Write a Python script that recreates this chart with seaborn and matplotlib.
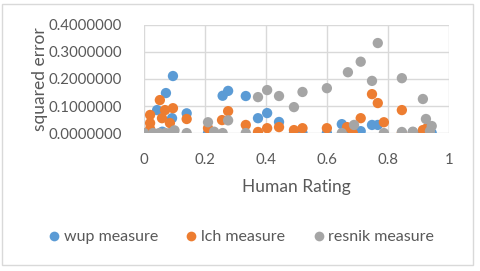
import matplotlib
matplotlib.use("Agg")
import matplotlib.pyplot as plt
from matplotlib.patches import Rectangle
from matplotlib.lines import Line2D
import seaborn as sns
import pandas as pd

# ---- data ----
wup_x = [0.02, 0.043, 0.06, 0.072, 0.092, 0.095, 0.14, 0.21, 0.258, 0.276, 0.334, 0.374,
         0.404, 0.443, 0.492, 0.52, 0.6, 0.649, 0.669, 0.711, 0.748, 0.767, 0.882, 0.915,
         0.93, 0.944]
wup_y = [0.0, 0.085, 0.005, 0.148, 0.055, 0.211, 0.073, 0.0, 0.138, 0.156, 0.137, 0.055,
         0.074, 0.041, 0.0, 0.0, 0.0, 0.033, 0.0, 0.007, 0.03, 0.03, 0.003, 0.0,
         0.0, 0.0]

lch_x = [0.02, 0.02, 0.02, 0.052, 0.059, 0.069, 0.085, 0.095, 0.14, 0.21, 0.256, 0.276,
         0.334, 0.374, 0.404, 0.443, 0.492, 0.52, 0.6, 0.666, 0.685, 0.711, 0.748, 0.767,
         0.787, 0.846, 0.846, 0.882, 0.915, 0.928]
lch_y = [0.067, 0.037, 0.015, 0.122, 0.055, 0.085, 0.037, 0.092, 0.052, 0.018, 0.048, 0.081,
         0.03, 0.004, 0.018, 0.022, 0.011, 0.018, 0.018, 0.022, 0.0, 0.055, 0.144, 0.111,
         0.04, 0.085, 0.0, 0.0, 0.011, 0.018]

resnik_x = [0.0, 0.03, 0.05, 0.07, 0.085, 0.1, 0.14, 0.21, 0.23, 0.258, 0.276, 0.334,
            0.374, 0.404, 0.443, 0.492, 0.52, 0.6, 0.649, 0.669, 0.689, 0.711, 0.748,
            0.767, 0.787, 0.846, 0.846, 0.882, 0.915, 0.925, 0.944, 0.938]
resnik_y = [0.0, 0.0, 0.0, 0.0, 0.0, 0.01, 0.0, 0.04, 0.005, 0.0, 0.047, 0.0,
            0.133, 0.159, 0.137, 0.096, 0.152, 0.166, 0.0, 0.225, 0.03, 0.264, 0.193,
            0.333, 0.0, 0.203, 0.004, 0.005, 0.126, 0.052, 0.026, 0.007]

series_names = ["wup measure", "lch measure", "resnik measure"]
x_ticks = [0, 0.2, 0.4, 0.6, 0.8, 1]
x_tick_labels = ["0", "0.2", "0.4", "0.6", "0.8", "1"]
y_ticks = [0.0, 0.1, 0.2, 0.3, 0.4]
y_tick_labels = ["0.0000000", "0.1000000", "0.2000000", "0.3000000", "0.4000000"]

colors = ["#5B9BD5", "#ED7D31", "#A5A5A5"]

df = pd.concat([
    pd.DataFrame({"Human Rating": wup_x, "squared error": wup_y, "series": series_names[0]}),
    pd.DataFrame({"Human Rating": lch_x, "squared error": lch_y, "series": series_names[1]}),
    pd.DataFrame({"Human Rating": resnik_x, "squared error": resnik_y, "series": series_names[2]}),
], ignore_index=True)

sns.set_theme(style="white")
plt.rcParams["font.family"] = ["Lato", "DejaVu Sans"]
text_color = "#595959"
grid_color = "#D9D9D9"

fig = plt.figure(figsize=(4.8, 2.71), dpi=100)
ax = fig.add_axes([0.300, 0.509, 0.635, 0.399])

sns.scatterplot(data=df, x="Human Rating", y="squared error", hue="series",
                hue_order=series_names, palette=colors, s=55, linewidth=0,
                alpha=1, ax=ax, legend=False, zorder=3)

ax.set_xlim(0, 1)
ax.set_ylim(0, 0.4)
ax.set_xticks(x_ticks)
ax.set_xticklabels(x_tick_labels)
ax.set_yticks(y_ticks)
ax.set_yticklabels(y_tick_labels)
ax.grid(True, color=grid_color, linewidth=1)
ax.set_axisbelow(True)
for sp in ax.spines.values():
    sp.set_visible(False)
ax.tick_params(axis="both", length=0, labelsize=10.8, colors=text_color)
ax.tick_params(axis="x", pad=14)
ax.tick_params(axis="y", pad=16)
ax.set_xlabel("Human Rating", fontsize=12.5, color=text_color)
ax.set_ylabel("squared error", fontsize=12.5, color=text_color)
ax.xaxis.set_label_coords(0.5, (133 - 187) / 108, transform=ax.transAxes)
ax.xaxis.label.set_verticalalignment("center")
ax.yaxis.set_label_coords((40 - 144) / 305, 0.5, transform=ax.transAxes)
ax.yaxis.label.set_verticalalignment("center")

handles = [Line2D([0], [0], marker="o", linestyle="", markersize=7,
                  markerfacecolor=c, markeredgewidth=0) for c in colors]
fig.legend(handles, series_names, loc="center", bbox_to_anchor=(0.5, 1 - 237 / 271),
           ncol=3, frameon=False, fontsize=11.5, handletextpad=0.1, columnspacing=1.6,
           labelcolor=text_color, handlelength=1.0)

fig.patches.append(Rectangle((0.004, 0.022), 0.982, 0.963, transform=fig.transFigure,
                             fill=False, edgecolor="#D9D9D9", linewidth=1))

fig.savefig("out.png", dpi=100)
